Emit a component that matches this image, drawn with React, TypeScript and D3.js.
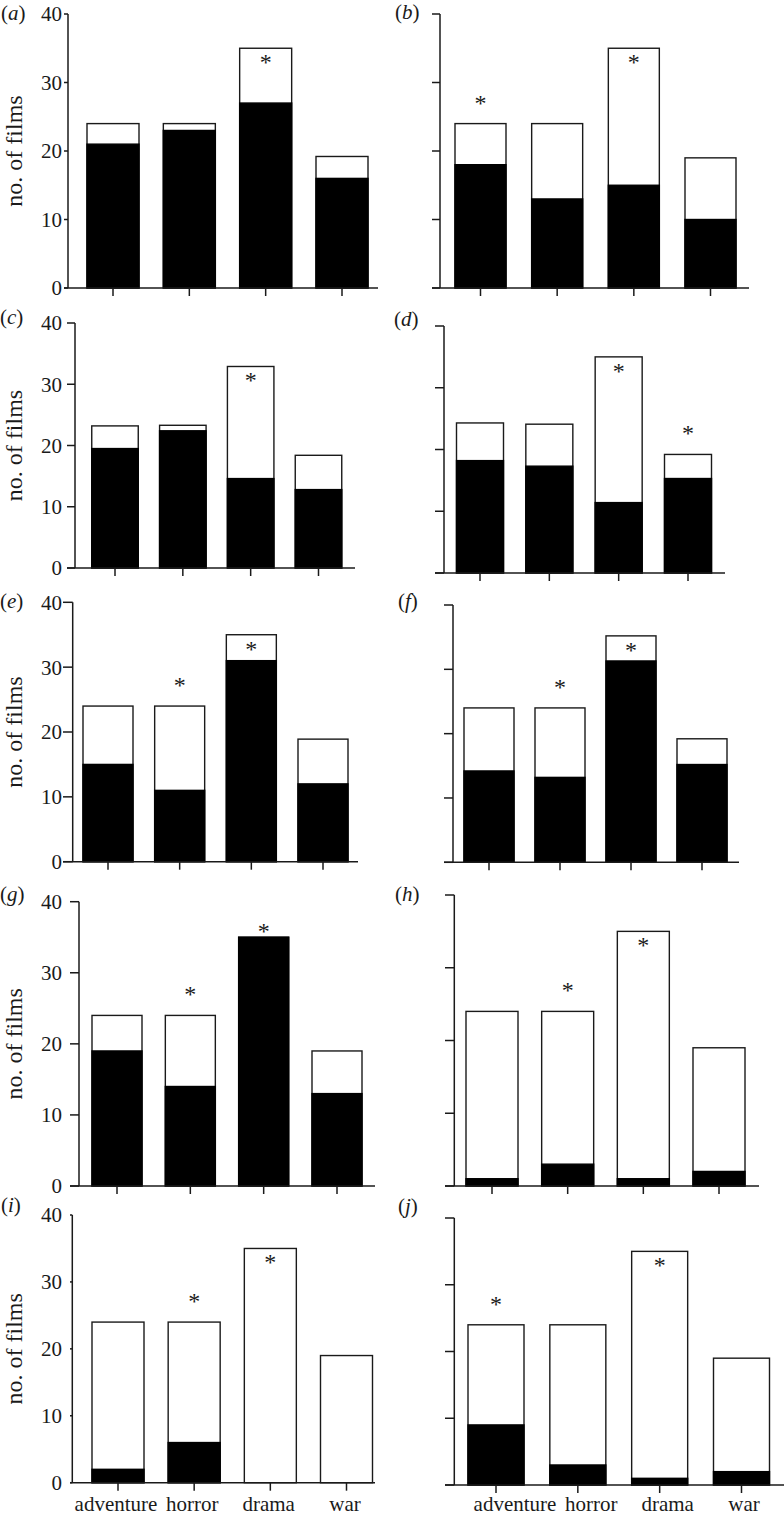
import React from "react";
import * as d3 from "d3";

const CATEGORIES = ["adventure", "horror", "drama", "war"];
const Y_TICKS = [0, 10, 20, 30, 40];
const Y_TICK_LABELS = ["0", "10", "20", "30", "40"];
const PANEL_IDS = ["a", "b", "c", "d", "e", "f", "g", "h", "i", "j"];
const Y_LABEL = "no. of films";

// total films per genre (bar height) and black part, per panel
const TOTAL_A = [24, 24, 35, 19.2];
const BLACK_A = [21, 23, 27, 16];
const TOTAL_B = [24, 24, 35, 19];
const BLACK_B = [18, 13, 15, 10];
const TOTAL_C = [23.2, 23.3, 32.9, 18.4];
const BLACK_C = [19.5, 22.4, 14.6, 12.8];
const TOTAL_D = [24.3, 24.1, 35, 19.2];
const BLACK_D = [18.2, 17.3, 11.4, 15.3];
const TOTAL_E = [24, 24, 35, 18.9];
const BLACK_E = [15, 11, 31, 12];
const TOTAL_F = [24, 24, 35.2, 19.2];
const BLACK_F = [14.2, 13.2, 31.3, 15.2];
const TOTAL_G = [24, 24, 35, 19];
const BLACK_G = [19, 14, 35, 13];
const TOTAL_H = [24, 24, 35, 19];
const BLACK_H = [1, 3, 1, 2];
const TOTAL_I = [24, 24, 35, 19];
const BLACK_I = [2, 6, 0, 0];
const TOTAL_J = [24, 24, 35, 19];
const BLACK_J = [9, 3, 1, 2];

// significance stars: category and placement ("in" bar top, "above" bar, "top" just above)
const STARS_A = [{ cat: "drama", where: "in" }];
const STARS_B = [{ cat: "adventure", where: "above" }, { cat: "drama", where: "in" }];
const STARS_C = [{ cat: "drama", where: "in" }];
const STARS_D = [{ cat: "drama", where: "in" }, { cat: "war", where: "above" }];
const STARS_E = [{ cat: "horror", where: "above" }, { cat: "drama", where: "in" }];
const STARS_F = [{ cat: "horror", where: "above" }, { cat: "drama", where: "in" }];
const STARS_G = [{ cat: "horror", where: "above" }, { cat: "drama", where: "top" }];
const STARS_H = [{ cat: "horror", where: "above" }, { cat: "drama", where: "in" }];
const STARS_I = [{ cat: "horror", where: "above" }, { cat: "drama", where: "in" }];
const STARS_J = [{ cat: "adventure", where: "above" }, { cat: "drama", where: "in" }];

const TOTALS = [TOTAL_A, TOTAL_B, TOTAL_C, TOTAL_D, TOTAL_E, TOTAL_F, TOTAL_G, TOTAL_H, TOTAL_I, TOTAL_J];
const BLACKS = [BLACK_A, BLACK_B, BLACK_C, BLACK_D, BLACK_E, BLACK_F, BLACK_G, BLACK_H, BLACK_I, BLACK_J];
const STARS = [STARS_A, STARS_B, STARS_C, STARS_D, STARS_E, STARS_F, STARS_G, STARS_H, STARS_I, STARS_J];

// layout (pixel geometry) per panel
const LAYOUT = [
  { axisX: 68, yTop: 14, y0: 288, xL: 64, xR: 378, c0: 113, c3: 342, bw: 52, lx: 1, ly: 20, left: true },
  { axisX: 440, yTop: 14, y0: 288, xL: 432, xR: 749, c0: 480.5, c3: 710.5, bw: 51, lx: 395, ly: 19, left: false },
  { axisX: 75, yTop: 323, y0: 568, xL: 67, xR: 355, c0: 115, c3: 318.5, bw: 46.5, lx: 0, ly: 324, left: true },
  { axisX: 444, yTop: 326, y0: 573, xL: 435, xR: 725, c0: 480, c3: 688, bw: 47, lx: 394, ly: 326, left: false },
  { axisX: 72.7, yTop: 602.3, y0: 861.7, xL: 63, xR: 358, c0: 108, c3: 323, bw: 50, lx: 0, ly: 608, left: true },
  { axisX: 453, yTop: 605, y0: 862.3, xL: 444, xR: 739, c0: 489, c3: 702, bw: 50, lx: 398, ly: 608, left: false },
  { axisX: 79, yTop: 901.7, y0: 1186, xL: 70, xR: 375, c0: 117, c3: 337, bw: 50, lx: 0, ly: 901, left: true },
  { axisX: 454.3, yTop: 895, y0: 1186, xL: 445, xR: 759, c0: 492, c3: 719, bw: 52, lx: 395, ly: 901, left: false },
  { axisX: 72.3, yTop: 1215, y0: 1482.7, xL: 70, xR: 375, c0: 118, c3: 346.5, bw: 52, lx: 1, ly: 1212, left: true, catRange: [116, 345] },
  { axisX: 454.3, yTop: 1218, y0: 1485, xL: 445, xR: 784, c0: 496, c3: 741.5, bw: 56, lx: 398, ly: 1213, left: false, catRange: [515, 744] },
];

const FONT = "'Liberation Serif', 'Times New Roman', serif";
const INK = "#1a1a1a";

function Panel({ idx }: { idx: number }) {
  const L: any = LAYOUT[idx];
  const totals = TOTALS[idx];
  const blacks = BLACKS[idx];
  const stars = STARS[idx];
  const y = d3.scaleLinear().domain([0, 40]).range([L.y0, L.yTop]);
  const step = (L.c3 - L.c0) / 3;
  const pad = 1 - L.bw / step;
  const x = d3
    .scaleBand<string>()
    .domain(CATEGORIES)
    .range([L.c0 - step / 2, L.c3 + step / 2])
    .paddingInner(pad)
    .paddingOuter(pad / 2);
  const bw = x.bandwidth();
  const starOffset: Record<string, number> = { in: 11, above: -24, top: -9 };
  const catScale = L.catRange ? d3.scalePoint<string>().domain(CATEGORIES).range(L.catRange) : null;

  return (
    <g>
      {/* panel letter */}
      <text x={L.lx} y={L.ly} fontFamily={FONT} fontSize={21} fill={INK}>
        (<tspan fontStyle="italic">{PANEL_IDS[idx]}</tspan>)
      </text>

      {/* bars */}
      {CATEGORIES.map((c, i) => (
        <g key={c}>
          <rect
            x={x(c)!}
            y={y(totals[i])}
            width={bw}
            height={y(0) - y(totals[i])}
            fill="#fff"
            stroke={INK}
            strokeWidth={1.4}
          />
          {blacks[i] > 0 && (
            <rect
              x={x(c)!}
              y={y(blacks[i])}
              width={bw}
              height={y(0) - y(blacks[i])}
              fill="#000"
              stroke="#000"
              strokeWidth={1.4}
            />
          )}
        </g>
      ))}

      {/* stars */}
      {stars.map((s, k) => {
        const i = CATEGORIES.indexOf(s.cat);
        const cy = y(totals[i]) + starOffset[s.where];
        return (
          <text
            key={k}
            x={x(s.cat)! + bw / 2}
            y={cy + 11}
            textAnchor="middle"
            fontFamily={FONT}
            fontSize={24}
            fill={INK}
          >
            *
          </text>
        );
      })}

      {/* y axis */}
      <line x1={L.axisX} x2={L.axisX} y1={y(40)} y2={y(0)} stroke={INK} strokeWidth={1.5} />
      {Y_TICKS.map((t, k) => (
        <g key={t}>
          <line x1={L.xL} x2={L.axisX} y1={y(t)} y2={y(t)} stroke={INK} strokeWidth={1.5} />
          {L.left && (
            <text
              x={62}
              y={y(t)}
              dy="0.35em"
              textAnchor="end"
              fontFamily={FONT}
              fontSize={21}
              fill={INK}
            >
              {Y_TICK_LABELS[k]}
            </text>
          )}
        </g>
      ))}
      {L.left && (
        <text
          transform={`translate(22, ${(L.yTop + L.y0) / 2}) rotate(-90)`}
          textAnchor="middle"
          fontFamily={FONT}
          fontSize={24}
          fill={INK}
        >
          {Y_LABEL}
        </text>
      )}

      {/* x axis */}
      <line x1={L.xL} x2={L.xR} y1={y(0)} y2={y(0)} stroke={INK} strokeWidth={1.5} />
      {CATEGORIES.map((c) => (
        <line
          key={c}
          x1={x(c)! + bw / 2}
          x2={x(c)! + bw / 2}
          y1={y(0)}
          y2={y(0) + 8}
          stroke={INK}
          strokeWidth={1.5}
        />
      ))}
      {catScale &&
        CATEGORIES.map((c) => (
          <text
            key={c}
            x={catScale(c)!}
            y={1511}
            textAnchor="middle"
            fontFamily={FONT}
            fontSize={21}
            fill={INK}
          >
            {c}
          </text>
        ))}
    </g>
  );
}

export default function App() {
  return (
    <svg
      width={784}
      height={1517}
      style={{ position: "absolute", left: 0, top: 0, background: "#fff" }}
    >
      <rect width={784} height={1517} fill="#fff" />
      {PANEL_IDS.map((id, i) => (
        <Panel key={id} idx={i} />
      ))}
    </svg>
  );
}
